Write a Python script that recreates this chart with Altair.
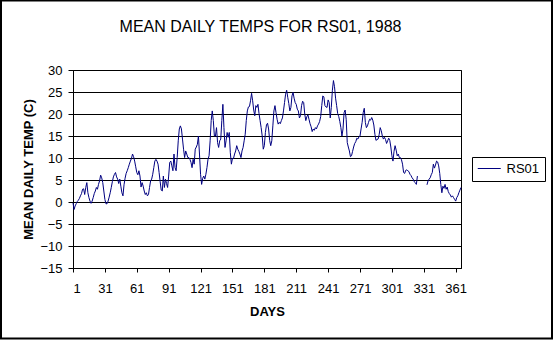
import altair as alt
import pandas as pd

FONT = "Liberation Sans, Arial, sans-serif"
TITLE = "MEAN DAILY TEMPS FOR RS01, 1988"
SERIES = "RS01"

# mean daily temperature (C)
q1 = [-0.2, -1.7, -0.9, -0.4, 0.1, 0.4, 0.8, 1.4, 1.9, 2.9,
      3.0, 1.7, 3.3, 4.4, 2.1, 1.0, 0.2, -0.3, 0.2, 1.0,
      1.9, 2.5, 3.3, 2.9, 4.0, 4.8, 6.1, 5.5, 4.4, 2.5,
      0.6, -0.4, -0.4, 0.2, 1.1, 2.1, 3.3, 4.6, 5.7, 6.3,
      6.7, 5.7, 5.2, 4.2, 5.2, 3.6, 2.1, 1.4, 3.9, 5.4,
      6.5, 7.1, 7.8, 8.6, 9.3, 9.9, 10.9, 10.3, 9.3, 8.0,
      6.7, 6.2, 7.1, 5.9, 3.4, 4.4, 3.6, 2.5, 1.7, 2.1,
      1.4, 1.7, 3.3, 4.8, 5.2, 6.3, 7.8, 9.3, 9.7, 9.3,
      8.6, 6.7, 4.6, 2.7, 2.5, 5.9, 3.3, 5.2, 4.2, 3.3,
      5.9, 9.0]
q2 = [9.3, 8.2, 7.1, 10.9, 7.8, 7.1, 10.1, 13.9,
      16.6, 17.3, 16.6, 14.3, 12.0, 10.1, 11.6, 10.9, 10.1, 10.1,
      9.7, 9.0, 7.8, 9.7, 8.6, 12.0, 12.5, 13.1, 15.0, 10.9,
      6.3, 4.0, 5.4, 5.9, 5.2, 6.3, 7.8, 9.7, 10.5, 13.9,
      18.5, 20.7, 18.5, 15.0, 15.0, 16.9, 13.5, 12.4, 13.9, 14.3,
      18.5, 22.2, 16.9, 12.4, 13.9, 15.8, 14.7, 15.8, 11.2, 8.6,
      9.9, 9.9, 10.9, 11.6, 12.8, 12.0, 11.5, 10.9, 10.1, 11.6,
      12.4, 13.9, 15.4, 18.5, 20.7, 21.6, 21.7, 23.0, 24.7, 23.0,
      20.9, 19.6, 21.9, 21.5, 22.2, 20.1]
q3 = [18.5, 16.9, 15.0, 12.0,
      12.8, 15.8, 17.5, 17.9, 16.6, 14.0, 12.8, 13.9, 17.3, 20.7,
      21.9, 20.3, 18.8, 17.7, 18.1, 17.8, 18.5, 19.1, 20.7, 22.6,
      24.5, 25.4, 23.8, 22.4, 20.7, 21.5, 24.1, 24.9, 23.6, 22.6,
      22.2, 21.1, 20.7, 19.1, 19.6, 21.9, 22.9, 22.6, 20.0, 18.5,
      19.4, 19.8, 18.8, 17.8, 17.1, 16.0, 16.6, 16.3, 16.9, 16.6,
      17.3, 17.7, 18.3, 19.4, 21.9, 24.1, 23.9, 21.9, 21.6, 21.5,
      23.2, 22.6, 19.1, 21.5, 25.4, 27.6, 26.2, 23.6, 21.9, 20.1,
      19.4, 18.3, 16.9, 15.0, 16.6, 20.3, 20.9, 18.8, 13.5, 12.5,
      11.6, 10.3, 10.5, 11.5, 12.5, 13.3, 13.7, 14.5, 14.3, 14.8,
      15.0]
q4 = [16.6, 18.1, 20.3, 21.3, 18.1, 16.9, 17.3, 18.1, 18.8,
      18.6, 19.2, 18.6, 17.5, 15.4, 14.0, 14.2, 14.3, 15.3, 16.9,
      16.2, 15.0, 14.3, 14.7, 14.2, 13.3, 13.9, 14.5, 14.0, 12.5,
      10.5, 9.3, 11.5, 12.8, 11.8, 10.5, 10.9, 10.1, 10.1, 9.6,
      8.6, 6.7, 6.5, 7.2, 7.3, 7.1, 6.9, 6.3, 6.0, 5.5,
      5.2, 4.6, 4.4, 4.0, 5.9, None, None, None, None, None,
      None, None, None, 3.9, 4.8, 5.2, 5.5, 6.2, 6.7, 8.6,
      7.7, 8.4, 9.3, 9.1, 8.2, 6.5, 4.0, 2.1, 3.6, 3.1,
      4.0, 2.9, 3.4, 2.4, 1.9, 1.6, 1.1, 1.4, 1.0, 0.6,
      0.2, 1.0, 1.4, 2.1, 2.7, 3.3]

temps = q1 + q2 + q3 + q4
days = list(range(1, len(temps) + 1))
x_ticks = list(range(1, 362, 30))
y_ticks = list(range(-15, 31, 5))

df = pd.DataFrame({"day": days, "temp": temps, "series": SERIES})

line = alt.Chart(df).mark_line(
    strokeWidth=1, invalid="break-paths-show-domains"
).encode(
    x=alt.X("day:Q",
            scale=alt.Scale(domain=[1, 366], nice=False, zero=False),
            axis=alt.Axis(values=x_ticks, format="d", grid=False, title="DAYS",
                          tickSize=4, labelPadding=10, labelBaseline="top",
                          titleX=194, titleY=43, titleBaseline="middle",
                          titleAlign="center")),
    y=alt.Y("temp:Q",
            scale=alt.Scale(domain=[-15, 30], nice=False, zero=False),
            axis=alt.Axis(values=y_ticks, format="d", grid=True,
                          title="MEAN DAILY TEMP (C)",
                          tickSize=5, labelPadding=6,
                          titleX=-45, titleY=99, titleAngle=-90,
                          titleBaseline="middle", titleAlign="center")),
    color=alt.Color("series:N", scale=alt.Scale(range=["#000080"]),
                    legend=alt.Legend(title=None, orient="none", legendX=399, legendY=87,
                                      strokeColor="black", fillColor="white",
                                      padding=5, cornerRadius=0,
                                      symbolType="M-2,0L2,0", symbolSize=132,
                                      symbolOffset=5.75,
                                      symbolStrokeWidth=1, labelOffset=10.75,
                                      labelFont=FONT, labelFontSize=13,
                                      labelColor="black")),
)

title = alt.Chart(alt.Data(values=[{"t": TITLE}])).mark_text(
    font=FONT, fontSize=16, align="center", baseline="alphabetic", color="black"
).encode(text="t:N", x=alt.value(187.5), y=alt.value(-38.3))

frame = alt.Chart(alt.Data(values=[{"a": 1}])).mark_rect(
    filled=False, stroke="black", strokeWidth=2
).encode(x=alt.value(-72), x2=alt.value(479), y=alt.value(-69.5), y2=alt.value(268.5))

chart = alt.layer(line, title, frame).properties(
    width=388, height=198,
    padding={"left": 73, "top": 70, "right": 93, "bottom": 72},
    autosize=alt.AutoSizeParams(type="none"),
    background="white",
).configure_view(
    stroke="black", strokeWidth=1
).configure_axis(
    domainColor="black", tickColor="black", gridColor="black", gridOpacity=1,
    gridWidth=1, labelFont=FONT, labelFontSize=13, labelColor="black",
    titleFont=FONT, titleFontSize=13, titleFontWeight="bold", titleColor="black",
)

chart.save("out.html", embed_options={"renderer": "svg", "actions": False})
